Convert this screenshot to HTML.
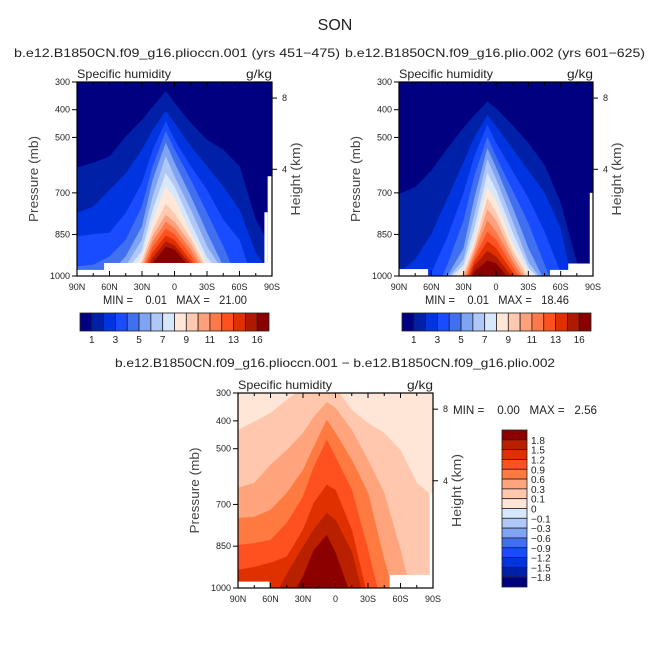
<!DOCTYPE html>
<html><head><meta charset="utf-8"><style>
html,body{margin:0;padding:0;background:#fff;}
svg{display:block;font-family:"Liberation Sans",sans-serif;}
</style></head><body>
<svg id="root" width="671" height="671" viewBox="0 0 671 671" xmlns="http://www.w3.org/2000/svg">
<text x="335" y="30" font-size="16" text-anchor="middle" fill="#222">SON</text>
</svg>
<script>
// ---- data ----
const lats = [90,75,60,45,30,20,8,0,-15,-30,-45,-60,-75,-90];
const pressureTicks = [300,400,500,700,850,1000];
const latTicks = [90,60,30,0,-30,-60,-90];
const latTickLabels = ['90N','60N','30N','0','30S','60S','90S'];
const heightTicks = [8,4];
const heightTickP = [358,615];
const absColors = ['#000080','#0020a8','#0034e0','#1a4cff','#4070f0','#80a4f4','#b0c8f8','#d8e8fc','#ffe8d8','#ffc8b0','#ffa07c','#ff7848','#ff5020','#e03000','#b01800','#880000'];
const absBarLabels = ['1','3','5','7','9','11','13','16'];
// boundaries (pressure, mb) where each successive level begins, per latitude column
const panel1Levels = [
 [609,592,569,497,437,389,333,376,448,509,545,605,798,900],
 [773,750,690,630,545,473,405,448,533,605,678,762,918,1000],
 [858,850,845,773,665,545,443,509,605,690,798,870,1050,1100],
 [966,960,930,870,750,605,479,545,654,773,894,1030,1100,1100],
 [1050,1030,990,930,822,654,520,592,714,845,966,1100,1100,1100],
 [1100,1100,1060,965,870,714,569,642,762,894,985,1100,1100,1100],
 [1100,1100,1030,985,910,762,630,678,810,935,995,1100,1100,1100],
 [1100,1100,1100,1005,930,800,678,720,845,955,1005,1100,1100,1100],
 [1100,1100,1100,1030,945,835,740,775,865,975,1020,1100,1100,1100],
 [1100,1100,1100,1050,960,855,780,805,885,990,1040,1100,1100,1100],
 [1100,1100,1100,1070,975,875,805,828,905,1005,1060,1100,1100,1100],
 [1100,1100,1100,1090,990,895,830,850,925,1020,1080,1100,1100,1100],
 [1100,1100,1100,1110,1000,915,855,870,945,1040,1100,1100,1100,1100],
 [1100,1100,1100,1130,1015,935,875,890,960,1060,1120,1100,1100,1100],
 [1100,1100,1100,1150,1030,955,895,905,975,1080,1140,1100,1100,1100]
];
const panel2Levels = [
 [704,680,620,540,465,420,371,395,455,520,600,737,952,1100],
 [990,940,850,720,590,500,420,460,540,620,700,830,1100,1100],
 [1100,1100,990,860,700,570,455,520,620,720,840,990,1100,1100],
 [1100,1100,1100,960,800,640,500,570,690,810,960,1100,1100,1100],
 [1100,1100,1100,1000,900,720,540,610,750,900,1020,1100,1100,1100],
 [1100,1100,1100,1010,940,780,580,650,800,950,1030,1100,1100,1100],
 [1100,1100,1100,1015,960,830,630,690,840,970,1030,1100,1100,1100],
 [1100,1100,1100,1020,975,870,680,730,880,985,1030,1100,1100,1100],
 [1100,1100,1100,1040,990,890,720,770,905,1005,1050,1100,1100,1100],
 [1100,1100,1100,1060,1005,905,760,800,925,1020,1070,1100,1100,1100],
 [1100,1100,1100,1080,1020,920,800,840,945,1035,1090,1100,1100,1100],
 [1100,1100,1100,1100,1035,935,840,870,965,1050,1100,1100,1100,1100],
 [1100,1100,1100,1100,1050,950,875,900,985,1065,1100,1100,1100,1100],
 [1100,1100,1100,1100,1065,965,910,930,1005,1080,1100,1100,1100,1100],
 [1100,1100,1100,1100,1080,985,945,955,1025,1100,1100,1100,1100,1100]
];
const diffColors = ['#ffe6d6','#ffc8ae','#ffa47c','#ff7a40','#ff5020','#e03000','#b82000','#8c0000'];
const diffBarColors = ['#8c0000','#b82000','#e03000','#ff5020','#ff7a40','#ffa47c','#ffc8ae','#ffe6d6','#d8e8fc','#b0c8f8','#80a4f4','#4070f0','#1a4cff','#0034e0','#0020a8','#000080'];
const diffBarLabels = ['1.8','1.5','1.2','0.9','0.6','0.3','0.1','0','\u22120.1','\u22120.3','\u22120.6','\u22120.9','\u22121.2','\u22121.5','\u22121.8'];
const panel3Levels = [
 [433,403,372,325,280,280,280,280,361,408,444,505,623,673],
 [641,623,558,505,444,386,333,354,433,541,659,864,1100,1100],
 [749,745,720,659,577,494,397,444,541,659,900,1100,1100,1100],
 [846,840,828,767,673,566,469,530,648,864,1100,1100,1100,1100],
 [935,925,910,888,792,695,630,648,792,1040,1100,1100,1100,1100],
 [1100,1100,1060,950,853,790,731,756,870,1100,1100,1100,1100,1100],
 [1100,1100,1100,1060,960,864,810,874,1040,1100,1100,1100,1100,1100]
];
const stats1 = ['0.01','21.00'];
const stats2 = ['0.01','18.46'];
const stats3 = ['0.00','2.56'];

// ---- drawing ----
const NS='http://www.w3.org/2000/svg';
const root=document.getElementById('root');
function mk(tag,attrs,parent){const e=document.createElementNS(NS,tag);for(const k in attrs)e.setAttribute(k,attrs[k]);(parent||root).appendChild(e);return e;}
function txt(x,y,s,size,anchor,parent,extra){const t=mk('text',Object.assign({x:x,y:y,'font-size':size,'text-anchor':anchor||'start',fill:'#222'},extra||{}),parent);t.textContent=s;return t;}

let clipId=0;
function panel(x0,y0,w,h,bg,levels,colors,missing,name){
  const g=mk('g',{});
  
  
  const xs=lat=>x0+(90-lat)/180*w;
  const ys=p=>y0+(p-300)/700*h;
  const cid='clip'+(clipId++);
  const cp=mk('clipPath',{id:cid},g);mk('rect',{x:x0,y:y0,width:w,height:h},cp);
  const cg=mk('g',{'clip-path':'url(#'+cid+')'},g);
  const bgr=mk('rect',{x:x0,y:y0,width:w,height:h,fill:bg},cg);
  
  
  levels.forEach((lv,i)=>{
    let pts=lats.map((la,j)=>xs(la).toFixed(1)+','+ys(lv[j]).toFixed(1));
    pts.push(xs(-90)+','+ys(1200));pts.push(xs(90)+','+ys(1200));
    const pg=mk('polygon',{points:pts.join(' '),fill:colors[i],stroke:colors[i],'stroke-width':0.4,'stroke-linejoin':'round'},cg);
    
    
  });
  missing.forEach(m=>{
    const r=mk('rect',{x:xs(m[0]),y:ys(m[2]),width:xs(m[1])-xs(m[0]),height:ys(m[3])-ys(m[2]),fill:'#fff'},cg);
    
    
  });
  mk('rect',{x:x0,y:y0,width:w,height:h,fill:'none',stroke:'#000','stroke-width':1.2},g);
  for(let la=90;la>=-90;la-=15){
    const major=la%30===0, L=major?5:3, X=xs(la);
    mk('line',{x1:X,y1:y0+h,x2:X,y2:y0+h-L,stroke:'#000','stroke-width':1},g);
    mk('line',{x1:X,y1:y0,x2:X,y2:y0+L,stroke:'#000','stroke-width':1},g);
  }
  latTicks.forEach((la,i)=>{const t=txt(xs(la),y0+h+14,latTickLabels[i],9,'middle',g);});
  pressureTicks.forEach(p=>{
    const Y=ys(p);
    mk('line',{x1:x0-5,y1:Y,x2:x0,y2:Y,stroke:'#000','stroke-width':1},g);
    const t=txt(x0-7,Y+3,String(p),9,'end',g);
    
    
  });
  heightTicks.forEach((hk,i)=>{
    const Y=ys(heightTickP[i]);
    mk('line',{x1:x0+w,y1:Y,x2:x0+w+5,y2:Y,stroke:'#000','stroke-width':1},g);
    const t=txt(x0+w+10,Y+3,String(hk),9,'start',g);
    
    
  });
  const sh=txt(x0,y0-4,'Specific humidity',12,'start',g,{textLength:94,lengthAdjust:'spacingAndGlyphs'});
  
  const un=txt(x0+w-26,y0-4,'g/kg',12,'start',g,{textLength:26,lengthAdjust:'spacingAndGlyphs'});
  
  const py=y0+h/2;
  const pl=txt(x0-39,py,'Pressure (mb)',13,'middle',g,{transform:'rotate(-90 '+(x0-39)+' '+py+')',fill:'#444',textLength:86,lengthAdjust:'spacingAndGlyphs'});
  
  const hx=x0+w+28;
  const hl=txt(hx,py,'Height (km)',13,'middle',g,{transform:'rotate(-90 '+hx+' '+py+')',fill:'#444',textLength:73,lengthAdjust:'spacingAndGlyphs'});
  
  return g;
}
function hbar(x0,y0,w,h,name){
  const g=mk('g',{});
  
  
  const bw=w/absColors.length;
  absColors.forEach((c,i)=>{
    const r=mk('rect',{x:x0+i*bw,y:y0,width:bw,height:h,fill:c,stroke:'#222','stroke-width':0.8},g);
    
    
  });
  absBarLabels.forEach((s,i)=>{
    const t=txt(x0+(1+2*i)*bw,y0+h+12,s,10,'middle',g);
    
    
  });
}
function statsText(x,y,vals,name){
  const t=txt(x,y,'MIN =    '+vals[0]+'   MAX =   '+vals[1],12,'start',root,{style:'white-space:pre',textLength:144,lengthAdjust:'spacingAndGlyphs'});
  
  
}
function title(x,y,s,len,name){const t=txt(x,y,s,12,'middle',root,{textLength:len,lengthAdjust:'spacingAndGlyphs'});}

title(177,57,'b.e12.B1850CN.f09_g16.plioccn.001 (yrs 451\u2212475)',326,'left-panel-title');
title(495,57,'b.e12.B1850CN.f09_g16.plio.002 (yrs 601\u2212625)',300,'right-panel-title');
panel(77,82,195,194,'#000080',panel1Levels,absColors.slice(1),[[90,61,978,1000],[65,-90,953,1000],[-86,-90,640,1000],[-83,-86,770,1000]],'left-contour-plot');
panel(399,82,194,194,'#000080',panel2Levels,absColors.slice(1),[[90,63,975,1000],[-50,-90,978,1000],[-67,-90,955,1000],[-87,-90,700,1000]],'right-contour-plot');
statsText(103,304,stats1,'left-min-max');
statsText(425,304,stats2,'right-min-max');
hbar(80,313,189,18,'left-colorbar');
hbar(402,313,189,18,'right-colorbar');
title(335,367,'b.e12.B1850CN.f09_g16.plioccn.001 \u2212 b.e12.B1850CN.f09_g16.plio.002',440,'diff-panel-title');
panel(238,393,195,195,'#ffe6d6',panel3Levels,diffColors.slice(1),[[90,61,977,1000],[-50,-90,953,1000],[-87,-90,660,1000]],'diff-contour-plot');
statsText(453,414,stats3,'diff-min-max');
(function(){
  const g=mk('g',{});
  
  
  const x0=502,y0=430,w=25,h=157,bh=h/diffBarColors.length;
  diffBarColors.forEach((c,i)=>{
    const r=mk('rect',{x:x0,y:y0+i*bh,width:w,height:bh,fill:c,stroke:'#222','stroke-width':0.8},g);
    
    
  });
  diffBarLabels.forEach((s,i)=>{
    const t=txt(531,y0+(i+1)*bh+4,s,10,'start',g);
    
    
  });
})();
</script>
</body></html>
